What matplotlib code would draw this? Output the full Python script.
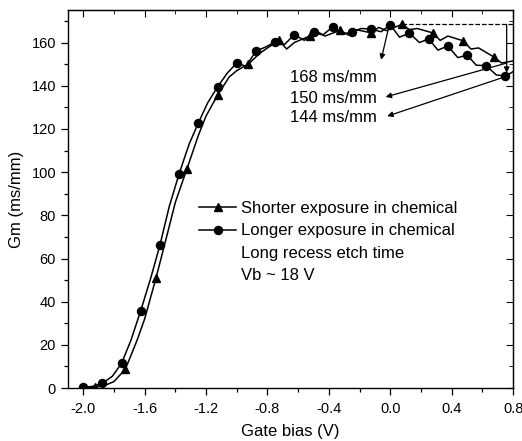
import matplotlib

matplotlib.use("Agg")

import matplotlib.pyplot as plt
from matplotlib.lines import Line2D
from matplotlib.ticker import MultipleLocator

plt.rcParams["font.family"] = ["Liberation Sans", "DejaVu Sans"]
plt.rcParams["font.size"] = 12

# longer exposure in chemical (circles): line trace and marker positions
long_x = [-2.0, -1.94, -1.875, -1.81, -1.75, -1.69, -1.625, -1.56, -1.5, -1.44,
          -1.375, -1.31, -1.25, -1.19, -1.125, -1.06, -1.0, -0.94, -0.875, -0.81,
          -0.75, -0.69, -0.625, -0.56, -0.5, -0.44, -0.375, -0.31, -0.25, -0.19,
          -0.125, -0.06, 0.0, 0.06, 0.125, 0.19, 0.25, 0.31, 0.375, 0.44, 0.5,
          0.56, 0.625, 0.69, 0.75, 0.8]
long_y = [0.3, 0.8, 2.2, 5.5, 11.5, 22.0, 35.9, 51.0, 66.3, 84.0,
          99.3, 113.0, 122.8, 132.0, 139.5, 146.0, 150.5, 149.0, 156.0, 158.0,
          160.3, 159.0, 163.7, 161.0, 164.8, 163.5, 167.2, 164.0, 164.8, 166.5,
          166.2, 165.0, 168.2, 162.5, 164.3, 160.0, 161.7, 156.5, 158.4, 153.0, 154.2,
          149.5, 149.3, 145.0, 144.5, 146.5]
long_mx = [-2.0, -1.875, -1.75, -1.625, -1.5, -1.375, -1.25, -1.125, -1.0, -0.875,
           -0.75, -0.625, -0.5, -0.375, -0.25, -0.125, 0.0, 0.125, 0.25, 0.375,
           0.5, 0.625, 0.75]
long_my = [0.3, 2.2, 11.5, 35.9, 66.3, 99.3, 122.8, 139.5, 150.5, 156.0,
           160.3, 163.7, 164.8, 167.2, 164.8, 166.2, 168.2, 164.3, 161.7, 158.4,
           154.2, 149.3, 144.5]

# shorter exposure in chemical (triangles)
short_x = [-2.0, -1.925, -1.85, -1.8, -1.725, -1.65, -1.6, -1.525, -1.45, -1.4,
           -1.325, -1.25, -1.2, -1.125, -1.05, -1.0, -0.925, -0.85, -0.8, -0.725,
           -0.675, -0.625, -0.525, -0.475, -0.425, -0.325, -0.275, -0.225, -0.125,
           -0.075, -0.025, 0.075, 0.125, 0.175, 0.275, 0.325, 0.375, 0.475, 0.525,
           0.575, 0.675, 0.725, 0.8]
short_y = [0.0, 0.5, 1.5, 3.0, 8.8, 22.0, 32.0, 51.2, 72.0, 86.0,
           101.4, 117.0, 126.0, 135.6, 144.0, 147.0, 150.0, 155.0, 157.5, 161.0,
           157.0, 160.0, 163.0, 165.0, 163.0, 165.7, 163.5, 166.0, 164.5,
           167.0, 165.5, 168.4, 166.0, 166.5, 164.5, 161.0, 163.0, 160.8, 157.0,
           157.5, 153.3, 150.5, 151.5]
short_mx = [-1.925, -1.725, -1.525, -1.325, -1.125, -0.925, -0.725, -0.525,
            -0.325, -0.125, 0.075, 0.275, 0.475, 0.675]
short_my = [0.5, 8.8, 51.2, 101.4, 135.6, 150.0, 161.0, 163.0,
            165.7, 164.5, 168.4, 164.5, 160.8, 153.3]

# annotations: label, label position, arrow tail point
notes = ["168 ms/mm", "150 ms/mm", "144 ms/mm"]
note_y = [143.9, 133.9, 125.1]
peak_x, peak_y = 0.075, 168.4
end_x, end_y = 0.758, 146.0

fig = plt.figure(figsize=(5.22, 4.41), dpi=100)
ax = fig.add_axes([0.130, 0.120, 0.853, 0.857])

ax.plot(long_x, long_y, color="black", lw=1.1)
ax.plot(short_x, short_y, color="black", lw=1.1)
ax.plot(long_mx, long_my, "o", color="black", ms=5.8, ls="none")
ax.plot(short_mx, short_my, "^", color="black", ms=6, ls="none")

# dashed reference at the peak and the drop arrow
ax.plot([peak_x, 0.8], [peak_y, peak_y], ls="--", color="black", lw=0.9)
arrow_kw = dict(arrowstyle="-|>", color="black", lw=0.9, mutation_scale=8,
                shrinkA=0, shrinkB=0)
ax.annotate("", xy=(end_x, end_y), xytext=(end_x, peak_y), arrowprops=arrow_kw)
ax.annotate("", xy=(-0.06, 152.0), xytext=(-0.008, 167.7), arrowprops=arrow_kw)
ax.annotate("", xy=(-0.03, 134.8), xytext=(0.758, 150.5), arrowprops=arrow_kw)
ax.annotate("", xy=(-0.02, 125.9), xytext=(0.754, 144.3), arrowprops=arrow_kw)
for lab, y in zip(notes, note_y):
    ax.text(-0.655, y, lab, fontsize=12, va="center", ha="left")

handles = [
    Line2D([], [], color="black", lw=1.1, marker="^", ms=6),
    Line2D([], [], color="black", lw=1.1, marker="o", ms=5.8),
    Line2D([], [], color="none"),
    Line2D([], [], color="none"),
]
labels = ["Shorter exposure in chemical", "Longer exposure in chemical",
          "Long recess etch time", "Vb ~ 18 V"]
ax.legend(handles, labels, loc="upper left", bbox_to_anchor=(0.279, 0.512),
          frameon=False, fontsize=12, handlelength=2.26, handletextpad=0.3,
          labelspacing=0.43, borderaxespad=0)

ax.set_xlim(-2.1, 0.8)
ax.set_ylim(0, 175)
ax.xaxis.set_minor_locator(MultipleLocator(0.2))
ax.yaxis.set_major_locator(MultipleLocator(20))
ax.yaxis.set_minor_locator(MultipleLocator(10))
ax.set_xticks([-2.0, -1.6, -1.2, -0.8, -0.4, 0.0, 0.4, 0.8])
ax.set_xticklabels(["-2.0", "-1.6", "-1.2", "-0.8", "-0.4", "0.0", "0.4", "0.8"])
ax.tick_params(which="major", direction="out", length=5, width=0.9, labelsize=10.5)
ax.tick_params(axis="x", which="major", pad=5)
ax.tick_params(which="minor", direction="out", length=3, width=0.9)
ax.set_xlabel("Gate bias (V)", fontsize=12, labelpad=6)
ax.set_ylabel("Gm (ms/mm)", fontsize=12, labelpad=5)
for s in ax.spines.values():
    s.set_linewidth(1.0)

top = ax.secondary_xaxis("top")
top.xaxis.set_major_locator(MultipleLocator(0.4))
top.xaxis.set_minor_locator(MultipleLocator(0.2))
top.tick_params(which="both", direction="in", labeltop=False)
top.tick_params(which="major", length=5)
top.tick_params(which="minor", length=3)
right = ax.secondary_yaxis("right")
right.yaxis.set_major_locator(MultipleLocator(20))
right.yaxis.set_minor_locator(MultipleLocator(10))
right.tick_params(which="both", direction="in", labelright=False)
right.tick_params(which="major", length=5)
right.tick_params(which="minor", length=3)

fig.savefig("out.png", dpi=100)
